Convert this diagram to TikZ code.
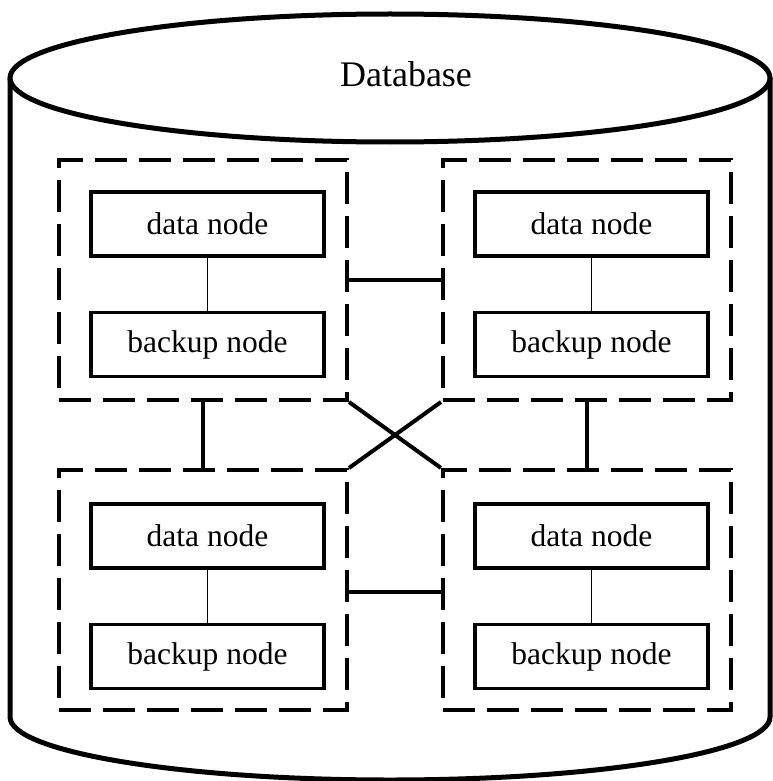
\documentclass[tikz,border=0pt]{standalone}
\usepackage{fontspec}
\setmainfont{Liberation Serif}
\begin{document}
\begin{tikzpicture}[x=1pt,y=-1pt,
  cyl/.style={line width=5pt},
  group/.style={draw,line width=4pt,dash pattern=on 32pt off 12pt,
    minimum width=288pt,minimum height=240pt,inner sep=0pt},
  unit/.style={draw,line width=3.5pt,minimum width=233pt,minimum height=64pt,
    inner sep=0pt,font=\fontsize{31.5}{36}\selectfont},
  link/.style={line width=4pt},
  pair/.style={line width=1.2pt}]
\useasboundingbox (0,0) rectangle (772,781);

% database cylinder
\draw[cyl] (10,78) -- (10,717) arc[start angle=180,end angle=0,x radius=380,y radius=63] -- (770,78);
\draw[cyl,fill=white] (390,78) ellipse [x radius=380,y radius=64];
\node[anchor=base,font=\fontsize{36}{40}\selectfont] (db) at (406,87) {Database};

% replica groups
\node[group] (g1) at (203,280) {};
\node[group] (g2) at (587,280) {};
\node[group] (g3) at (203,590) {};
\node[group] (g4) at (587,590) {};

% data / backup pairs
\node[unit] (d1) at (207.5,224) {data node};
\node[unit] (b1) at (207.5,344.5) {backup node};
\node[unit] (d2) at (591.5,224) {data node};
\node[unit] (b2) at (591.5,344.5) {backup node};
\node[unit] (d3) at (207.5,536) {data node};
\node[unit] (b3) at (207.5,656.5) {backup node};
\node[unit] (d4) at (591.5,536) {data node};
\node[unit] (b4) at (591.5,656.5) {backup node};

\foreach \i in {1,2,3,4} \draw[pair] (d\i) -- (b\i);

% links between groups
\draw[link] (g1.south) -- (g3.north);
\draw[link] (g2.south) -- (g4.north);
\draw[link] (g1.east) -- (g2.west);
\draw[link] ([yshift=-2pt]g3.east) -- ([yshift=-2pt]g4.west);
\draw[link] (g1.south east) -- (g4.north west);
\draw[link] (g2.south west) -- (g3.north east);
\end{tikzpicture}
\end{document}
